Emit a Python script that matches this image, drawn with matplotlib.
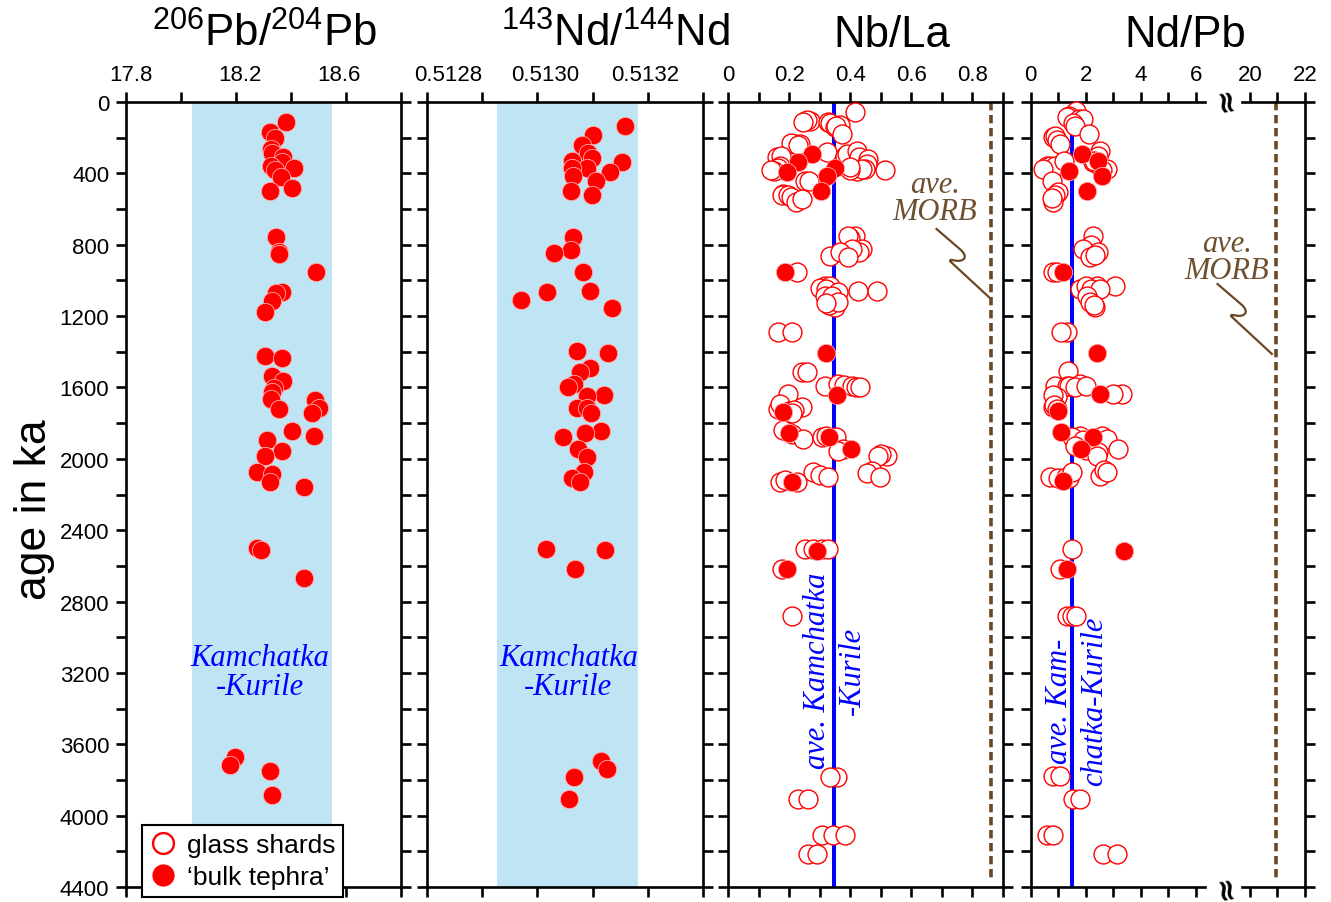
import matplotlib
matplotlib.use('Agg')
import matplotlib.pyplot as plt
from matplotlib.lines import Line2D
from matplotlib.path import Path
from matplotlib.patches import PathPatch
from matplotlib.ticker import MultipleLocator, FixedLocator, FuncFormatter
from matplotlib.transforms import Affine2D, ScaledTranslation

plt.rcParams['font.family'] = ['Liberation Sans', 'DejaVu Sans']
plt.rcParams['mathtext.fontset'] = 'custom'
plt.rcParams['mathtext.rm'] = 'Liberation Sans'
plt.rcParams['mathtext.it'] = 'Liberation Sans:italic'

# ---- data (age in ka, ratio) ----
pb_age = [114, 166, 204, 263, 288, 310, 338, 357, 370, 381, 422, 482, 497,
          758, 842, 852, 955, 1063, 1072, 1117, 1179,
          1422, 1435, 1537, 1562, 1605, 1627, 1665, 1668, 1717, 1721, 1743, 1846,
          1870, 1894, 1954, 1982, 2076, 2085, 2128, 2160,
          2502, 2511, 2668, 3673, 3716, 3751, 3884]
pb_ratio = [18.382, 18.324, 18.343, 18.328, 18.331, 18.370, 18.366, 18.328, 18.410,
            18.340, 18.362, 18.404, 18.324,
            18.346, 18.356, 18.355, 18.491, 18.366, 18.346, 18.331, 18.307,
            18.305, 18.366, 18.331, 18.370, 18.337, 18.331, 18.328, 18.487, 18.503,
            18.355, 18.476, 18.404, 18.482, 18.311, 18.366, 18.307, 18.276, 18.330,
            18.324, 18.446,
            18.276, 18.291, 18.446, 18.195, 18.179, 18.325, 18.330]

nd_age = [136, 185, 241, 288, 316, 329, 338, 370, 372, 394, 413, 445, 501, 521,
          755, 828, 846, 955, 1058, 1067, 1110, 1155,
          1394, 1407, 1493, 1511, 1581, 1599, 1640, 1646, 1715, 1715, 1743, 1842,
          1857, 1879, 1945, 1988, 2076, 2107, 2132,
          2505, 2511, 2618, 3694, 3738, 3783, 3907]
nd_ratio = [0.513159, 0.513101, 0.513081, 0.513092, 0.513099, 0.513062, 0.513153,
            0.513090, 0.513063, 0.513131, 0.513065, 0.513107, 0.513061, 0.513099,
            0.513065, 0.513060, 0.513030, 0.513082, 0.513095, 0.513018, 0.512970,
            0.513136,
            0.513072, 0.513128, 0.513095, 0.513078, 0.513066, 0.513055, 0.513120,
            0.513089, 0.513071, 0.513089, 0.513098, 0.513116, 0.513087, 0.513047,
            0.513074, 0.513090, 0.513084, 0.513062, 0.513078,
            0.513016, 0.513122, 0.513069, 0.513115, 0.513126, 0.513067, 0.513058]

nbla_glass = [0.416, 0.252, 0.268, 0.258, 0.245, 0.328, 0.335, 0.367, 0.350, 0.355,
              0.372, 0.219, 0.235, 0.205, 0.228, 0.159, 0.175, 0.170, 0.165, 0.150,
              0.140, 0.323, 0.383, 0.390, 0.421, 0.430, 0.459, 0.455, 0.421, 0.448,
              0.440, 0.400, 0.514, 0.399, 0.252, 0.265, 0.181, 0.176, 0.197, 0.205,
              0.223, 0.241,
              0.416, 0.400, 0.394, 0.438, 0.430, 0.405, 0.334, 0.367, 0.394, 0.225,
              0.317, 0.300, 0.335, 0.320, 0.361, 0.317, 0.340, 0.350, 0.330, 0.360,
              0.320, 0.427, 0.487, 0.165, 0.208,
              0.241, 0.260, 0.317, 0.361, 0.380, 0.405, 0.420, 0.432, 0.197, 0.181,
              0.241, 0.165, 0.170, 0.200, 0.215, 0.210, 0.197, 0.180, 0.210, 0.246,
              0.307, 0.320, 0.355, 0.377, 0.360, 0.519, 0.500, 0.490, 0.470, 0.455,
              0.498, 0.170, 0.185, 0.225, 0.279, 0.300, 0.328,
              0.252, 0.279, 0.307, 0.328, 0.176, 0.208, 0.356, 0.334, 0.230, 0.263,
              0.307, 0.345, 0.383, 0.263, 0.290]
nbla_glass_age = [58, 105, 105, 100, 110, 114, 120, 129, 142, 135,
                  179, 235, 235, 230, 240, 310, 300, 361, 372, 385,
                  380, 282, 301, 290, 273, 310, 320, 345, 385, 375,
                  378, 380, 379, 366, 445, 445, 516, 520, 521, 530,
                  559, 544,
                  749, 760, 749, 824, 840, 824, 861, 843, 870, 955,
                  1030, 1040, 1030, 1050, 1067, 1085, 1090, 1151, 1140, 1120,
                  1125, 1058, 1058, 1291, 1291,
                  1515, 1515, 1590, 1581, 1585, 1590, 1600, 1599, 1637, 1730,
                  1711, 1720, 1690, 1730, 1725, 1745, 1851, 1840, 1860, 1889,
                  1879, 1870, 1879, 1945, 1955, 1982, 1975, 1985, 2066, 2080,
                  2104, 2132, 2120, 2132, 2076, 2090, 2104,
                  2505, 2505, 2505, 2505, 2618, 2879, 3781, 3781, 3907, 3907,
                  4109, 4109, 4109, 4215, 4215]
nbla_bulk = [0.276, 0.230, 0.192, 0.350, 0.323, 0.303, 0.187, 0.320, 0.356, 0.181,
             0.200, 0.332, 0.403, 0.208, 0.290, 0.192]
nbla_bulk_age = [291, 335, 391, 370, 413, 500, 955, 1409, 1642, 1740,
                 1857, 1879, 1945, 2132, 2515, 2618]

ndpb_glass = [1.644, 1.400, 1.307, 1.750, 1.910, 1.550, 1.608, 2.128, 0.820, 0.900,
              0.950, 1.063, 0.580, 0.700, 0.820, 0.900, 0.460, 1.200, 2.515, 2.450,
              2.758, 2.600, 2.250, 2.300, 0.762, 1.000, 0.900, 0.820, 0.780,
              2.273, 2.200, 1.910, 2.152, 2.455, 2.350, 0.820, 0.950, 1.790, 2.396,
              3.060, 2.000, 2.200, 2.500, 2.030, 2.334, 2.150, 2.300, 1.307, 1.100,
              1.365, 0.882, 1.790, 1.307, 1.400, 1.600, 2.000, 3.303, 3.000, 0.940,
              0.800, 0.820, 0.850, 0.950, 1.790, 1.500, 1.900, 2.600, 2.758, 3.180,
              1.600, 2.000, 2.450, 2.396, 0.700, 1.000, 1.300, 1.400, 1.488, 2.515,
              2.650, 2.760,
              1.488, 1.063, 1.307, 1.488, 1.650, 0.820, 1.060, 1.547, 1.790, 0.580,
              0.820, 2.635, 3.120]
ndpb_glass_age = [49, 80, 86, 95, 95, 115, 133, 179, 198, 190,
                  215, 235, 357, 360, 376, 360, 376, 330, 273, 300,
                  376, 380, 335, 330, 441, 506, 520, 562, 540,
                  749, 800, 824, 870, 843, 860, 955, 955, 1048, 1030,
                  1030, 1030, 1050, 1050, 1085, 1151, 1120, 1140, 1291, 1291,
                  1506, 1590, 1581, 1590, 1590, 1600, 1590, 1637, 1637, 1655,
                  1640, 1711, 1700, 1720, 1870, 1880, 1895, 1870, 1889, 1945,
                  1930, 1950, 1960, 1982, 2104, 2110, 2100, 2110, 2076, 2094,
                  2060, 2076,
                  2505, 2618, 2879, 2879, 2879, 3776, 3776, 3907, 3907, 4109,
                  4109, 4215, 4215]
ndpb_bulk = [1.851, 1.401, 2.455, 2.577, 2.055, 1.183, 2.396, 2.515, 1.000, 1.089,
             2.273, 1.826, 1.162, 3.400, 1.307]
ndpb_bulk_age = [291, 385, 329, 413, 497, 955, 1407, 1637, 1730, 1851,
                 1879, 1945, 2122, 2515, 2618]

pb_band = (18.04, 18.55)
nd_band = (0.512927, 0.513182)
nbla_kk, nbla_morb = 0.347, 0.862
ndpb_kk, ndpb_morb = 1.49, 20.95

# ---- layout (pixel based) ----
W, H = 1331, 903
TOP, BOT = 103, 888
RED = '#ff0000'
BLUE = '#0000ff'
BAND = '#bfe5f5'
BROWN = '#6b4723'
BROWN_TXT = '#6e5030'
TICK_FS = 16

fig = plt.figure(figsize=(W / 100, H / 100), dpi=100)
px = Affine2D().scale(1 / W, -1 / H).translate(0, 1) + fig.transFigure


def rect(x0, x1):
    return [x0 / W, 1 - BOT / H, (x1 - x0) / W, (BOT - TOP) / H]


def style(ax, left=True, right=True):
    ax.set_ylim(4400, 0)
    ax.yaxis.set_major_locator(MultipleLocator(400))
    ax.yaxis.set_minor_locator(MultipleLocator(200))
    ax.tick_params(axis='both', which='both', direction='out', length=7.5, width=1.9,
                   top=True, bottom=True, labeltop=True, labelbottom=False,
                   left=left, right=right, labelleft=False, labelright=False,
                   labelsize=TICK_FS, pad=4.5)
    for s in ax.spines.values():
        s.set_linewidth(1.9)
    if not left:
        ax.spines['left'].set_visible(False)
    if not right:
        ax.spines['right'].set_visible(False)


def glass(ax, x, y):
    ax.scatter(x, y, s=185, facecolor='white', edgecolor=RED, linewidth=1.0,
               zorder=3, clip_on=False)


def bulk(ax, x, y):
    ax.scatter(x, y, s=175, facecolor=RED, edgecolor='#ffb0b0', linewidth=0.6,
               zorder=4, clip_on=False)


ax1 = fig.add_axes(rect(126, 401))
ax2 = fig.add_axes(rect(427, 703))
ax3 = fig.add_axes(rect(728, 1003))
ax4 = fig.add_axes(rect(1030.7, 1205))
ax4b = fig.add_axes(rect(1242, 1305))

for a in (ax1, ax2, ax3):
    style(a)
style(ax4, right=False)
style(ax4b, left=False)
ax1.tick_params(axis='y', which='major', labelleft=True)

# panel 1: 206Pb/204Pb
ax1.set_xlim(17.8, 18.8)
ax1.xaxis.set_major_locator(FixedLocator([17.8, 18.2, 18.6]))
ax1.xaxis.set_minor_locator(MultipleLocator(0.2))
ax1.xaxis.set_major_formatter(FuncFormatter(lambda v, p: f'{v:.1f}'))
ax1.axvspan(*pb_band, color=BAND, lw=0, zorder=0)
bulk(ax1, pb_ratio, pb_age)
ax1.text(18.286, 3195, 'Kamchatka\n-Kurile', color=BLUE, fontsize=22,
         family='Liberation Serif', style='italic', ha='center', va='center',
         multialignment='center', linespacing=1.0)

# panel 2: 143Nd/144Nd
ax2.set_xlim(0.5128, 0.5133)
ax2.xaxis.set_major_locator(FixedLocator([0.5128, 0.5130, 0.5132]))
ax2.xaxis.set_minor_locator(MultipleLocator(0.0001))
ax2.xaxis.set_major_formatter(FuncFormatter(lambda v, p: f'{v:.4f}'))
ax2.axvspan(*nd_band, color=BAND, lw=0, zorder=0)
bulk(ax2, nd_ratio, nd_age)
ax2.text(0.513056, 3195, 'Kamchatka\n-Kurile', color=BLUE, fontsize=22,
         family='Liberation Serif', style='italic', ha='center', va='center',
         multialignment='center', linespacing=1.0)

# panel 3: Nb/La
ax3.set_xlim(0, 0.9)
ax3.xaxis.set_major_locator(FixedLocator([0, 0.2, 0.4, 0.6, 0.8]))
ax3.xaxis.set_minor_locator(MultipleLocator(0.1))
ax3.xaxis.set_major_formatter(FuncFormatter(lambda v, p: '0' if v == 0 else f'{v:.1f}'))
ax3.axvline(nbla_kk, color=BLUE, lw=2.9, zorder=2)
ax3.plot([nbla_morb, nbla_morb], [0, 4370], color=BROWN, lw=2.6,
         ls=(0, (2.3, 1.3)), zorder=2)
glass(ax3, nbla_glass, nbla_glass_age)
bulk(ax3, nbla_bulk, nbla_bulk_age)
ax3.text(0.350, 3185, 'ave. Kamchatka\n-Kurile', color=BLUE, fontsize=22,
         family='Liberation Serif', style='italic', rotation=90, ha='center',
         va='center', multialignment='center', linespacing=1.3, zorder=5)

# panel 4: Nd/Pb (broken axis)
ax4.set_xlim(0, 6.33)
ax4.xaxis.set_major_locator(FixedLocator([0, 2, 4, 6]))
ax4.xaxis.set_minor_locator(MultipleLocator(1))
ax4b.set_xlim(19.71, 22.0)
ax4b.xaxis.set_major_locator(FixedLocator([20, 22]))
ax4b.xaxis.set_minor_locator(MultipleLocator(1))
ax4.axvline(ndpb_kk, color=BLUE, lw=2.9, zorder=2)
ax4b.plot([ndpb_morb, ndpb_morb], [0, 4370], color=BROWN, lw=2.6,
          ls=(0, (2.3, 1.3)), zorder=2)
glass(ax4, ndpb_glass, ndpb_glass_age)
bulk(ax4, ndpb_bulk, ndpb_bulk_age)
ax4.text(1.68, 3352, 'ave. Kam-\nchatka-Kurile', color=BLUE, fontsize=22,
         family='Liberation Serif', style='italic', rotation=90, ha='center',
         va='center', multialignment='center', linespacing=1.3, zorder=5)

# axis break marks
for yb in (98, 886):
    fig.text(1226 / W, 1 - yb / H, '\u2248', rotation=100, fontsize=22,
             fontweight='bold', family='DejaVu Sans', ha='center', va='center')

# ave. MORB labels with squiggly leaders
squig = [(0, 0), (25, 21.5), (29, 25), (32, 31), (24, 32.5), (18, 33),
         (14, 30), (14.5, 33), (56, 71.4)]
codes = [Path.MOVETO, Path.LINETO, Path.CURVE4, Path.CURVE4, Path.CURVE4,
         Path.CURVE4, Path.CURVE4, Path.CURVE4, Path.LINETO]
for (tx, ty), (sx, sy) in (((935, 199), (935.7, 229.3)), ((1227, 258), (1216.7, 284.3))):
    fig.text(tx / W, 1 - ty / H, 'ave.\nMORB', color=BROWN_TXT, fontsize=22,
             family='Liberation Serif', style='italic', ha='center', va='center',
             multialignment='center', linespacing=0.9)
    verts = [(sx + dx, sy + dy) for dx, dy in squig]
    fig.add_artist(PathPatch(Path(verts, codes), transform=px, fill=False,
                             edgecolor=BROWN, lw=1.6))

# titles
titles = [(264, r'$^{206}$Pb/$^{204}$Pb'), (615, r'$^{143}$Nd/$^{144}$Nd'),
          (892, 'Nb/La'), (1185, 'Nd/Pb')]
for cx, t in titles:
    fig.text(cx / W, 1 - 47 / H, t, fontsize=31.5, ha='center', va='baseline')

fig.text(35 / W, 1 - 510 / H, 'age in ka', rotation=90, fontsize=32,
         ha='center', va='center')

# legend
handles = [Line2D([], [], ls='none', marker='o', mfc='white', mec=RED, mew=1.7, ms=15),
           Line2D([], [], ls='none', marker='o', mfc=RED, mec=RED, ms=15)]
leg = ax1.legend(handles, ['glass shards', '\u2018bulk tephra\u2019'], loc='upper left',
                 bbox_to_anchor=(142 / W, 1 - 826 / H), bbox_transform=fig.transFigure,
                 fancybox=False, framealpha=1, edgecolor='black', fontsize=19,
                 handletextpad=0.4, borderpad=0.3, labelspacing=0.3,
                 handlelength=1.0, borderaxespad=0)
leg.get_frame().set_linewidth(1.5)
leg.set_zorder(10)

# the top tick labels in the reference sit slightly off their ticks
fig.canvas.draw()
for ax, shifts in ((ax1, [5, 4, -7]), (ax2, [21, 8, -3])):
    for tick, dx in zip(ax.xaxis.get_major_ticks(), shifts):
        tick.label2.set_transform(tick.label2.get_transform()
                                  + ScaledTranslation(dx / 100, 0, fig.dpi_scale_trans))

fig.savefig('out.png', dpi=100)
